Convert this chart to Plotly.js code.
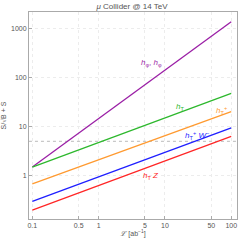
<!DOCTYPE html>
<html><head><meta charset="utf-8">
<script src="https://cdn.plot.ly/plotly-3.0.1.min.js"></script>
<style>html,body{margin:0;padding:0;background:#fff}#c{width:240px;height:241px}</style>
</head><body><div id="c"></div>
<script>
const lumi = [0.1, 100];
const hphiHphi = [1.5, 1350];
const hT = [1.5, 47];
const hTplus = [0.68, 20];
const hTplusW = [0.30, 9.4];
const hTZ = [0.20, 6.3];
const fiveSigma = [5, 5];
const xTicks = [0.1, 0.5, 1, 5, 10, 50, 100];
const xTickText = ['0.1', '0.5', '1', '5', '10', '50', '100'];
const yTicks = [1, 10, 100, 1000];
const yTickText = ['1', '10', '100', '1000'];

const series = [
  {y: hphiHphi, color: '#9b1fa6'},
  {y: hT, color: '#2db82d'},
  {y: hTplus, color: '#ff9a30'},
  {y: hTplusW, color: '#1f1fff'},
  {y: hTZ, color: '#ff2626'}
];
const traces = [{x: [0.089, 122], y: fiveSigma, mode: 'lines', line: {color: '#bbbbbb', width: 1, dash: 'dot'}, hoverinfo: 'skip'}];
series.forEach(s => traces.push({x: lumi, y: s.y, mode: 'lines', line: {color: s.color, width: 1.3}}));

const gray = '#555';
const layout = {
  width: 240, height: 241,
  margin: {l: 29, r: 3, t: 12, b: 22},
  showlegend: false,
  paper_bgcolor: '#fff', plot_bgcolor: '#fff',
  font: {family: 'Liberation Sans, Arial, sans-serif', size: 7, color: gray},
  title: {text: '<i>μ</i> Collider @ 14 TeV', x: 0.55, xanchor: 'center', y: 0.985, yanchor: 'top', font: {size: 8, color: gray}},
  xaxis: {type: 'log', range: [-1.05, 2.087], tickvals: xTicks, ticktext: xTickText,
    showline: true, mirror: true, linecolor: '#aaa', linewidth: 1,
    ticks: 'inside', ticklen: 3, tickcolor: '#aaa',
    showgrid: true, gridcolor: '#ececec', griddash: 'dot', zeroline: false,
    tickfont: {size: 7, color: gray},
    title: {text: '<i>ℒ</i> [ab<sup>−1</sup>]', standoff: 2, font: {size: 7, color: gray}}},
  yaxis: {type: 'log', range: [-0.88, 3.327], tickvals: yTicks, ticktext: yTickText,
    showline: true, mirror: true, linecolor: '#aaa', linewidth: 1,
    ticks: 'inside', ticklen: 3, tickcolor: '#aaa',
    showgrid: true, gridcolor: '#ececec', griddash: 'dot', zeroline: false,
    tickfont: {size: 7, color: gray},
    title: {text: 'S/√B + S', standoff: 5, font: {size: 7, color: gray}}},
  annotations: [
    {x: Math.log10(6.3), y: Math.log10(195), text: '<i>h</i><sub>φ</sub>, <i>h</i><sub>φ</sub>', showarrow: false, font: {size: 8, color: '#9b1fa6'}},
    {x: Math.log10(17), y: Math.log10(25), text: '<i>h</i><sub>T</sub>', showarrow: false, font: {size: 8, color: '#2db82d'}},
    {x: Math.log10(71), y: Math.log10(21.6), text: '<i>h</i><sub>T</sub><sup>+</sup>', showarrow: false, font: {size: 8, color: '#ff9a30'}},
    {x: Math.log10(30), y: Math.log10(6.7), text: '<i>h</i><sub>T</sub><sup>+</sup> <i>W</i><sup>−</sup>', showarrow: false, font: {size: 8, color: '#1f1fff'}},
    {x: Math.log10(6.2), y: Math.log10(1.0), text: '<i>h</i><sub>T</sub> <i>Z</i>', showarrow: false, font: {size: 8, color: '#ff2626'}}
  ]
};
Plotly.newPlot('c', traces, layout, {staticPlot: true, displayModeBar: false});
</script></body></html>
